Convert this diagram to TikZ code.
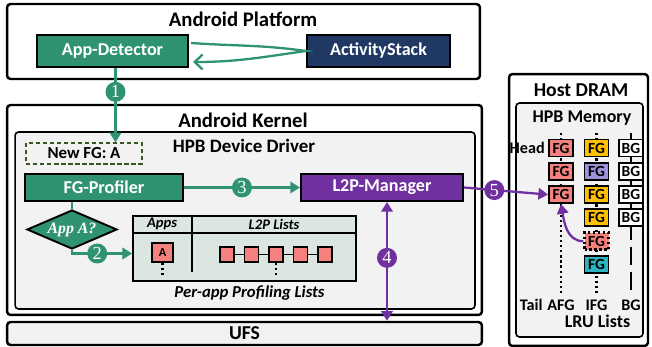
\documentclass[tikz,border=0pt]{standalone}
\usepackage{fontspec}
\setmainfont{Carlito}
\newfontfamily\numfont{Liberation Serif}
\usepackage{xcolor}
\usetikzlibrary{shapes.geometric,arrows.meta,positioning,calc}
\definecolor{DiagGreen}{HTML}{2F9270}
\definecolor{DiagDarkGreen}{HTML}{385723}
\definecolor{DiagNavy}{HTML}{203864}
\definecolor{DiagPurple}{HTML}{7030A0}
\definecolor{DiagGray}{HTML}{F2F2F2}
\definecolor{DiagTable}{HTML}{DCE6E1}
\definecolor{DiagRed}{HTML}{F4817E}
\definecolor{DiagYellow}{HTML}{FFC000}
\definecolor{DiagLavender}{HTML}{9E90DA}
\definecolor{DiagTeal}{HTML}{2DB4BF}
\tikzset{
    % Layer frames
    layer/.style={
        rectangle,
        rounded corners=2pt,
        draw=black,
        line width=1.4pt,
        fill=white,
        inner sep=0pt
    },
    layer inner/.style={
        layer,
        line width=0.9pt,
        fill=DiagGray
    },
    layer title/.style={
        inner sep=0pt,
        font=\fontsize{11.8}{13}\selectfont\bfseries
    },
    % Software modules
    module/.style={
        rectangle,
        draw=black,
        line width=1.2pt,
        text=white,
        inner sep=0pt,
        font=\fontsize{10.3}{12}\selectfont\bfseries
    },
    module green/.style={module, fill=DiagGreen},
    module navy/.style={module, fill=DiagNavy},
    module purple/.style={module, fill=DiagPurple},
    note box/.style={
        rectangle,
        draw=DiagDarkGreen,
        line width=0.8pt,
        dash pattern=on 2.5pt off 1.5pt,
        fill=DiagGray,
        inner sep=0pt,
        font=\fontsize{9.6}{10}\selectfont\bfseries
    },
    decision/.style={
        diamond,
        aspect=2.3,
        draw=black,
        line width=1.1pt,
        fill=DiagGreen,
        text=white,
        inner sep=0pt,
        minimum width=1.8cm,
        minimum height=0.78cm,
        font=\numfont\fontsize{9}{9}\selectfont\bfseries\itshape
    },
    numball/.style={
        circle,
        fill=#1,
        text=white,
        minimum size=0.4cm,
        inner sep=0pt,
        font=\numfont\fontsize{10.5}{10}\selectfont
    },
    % Lists
    prof table/.style={
        rectangle,
        draw=black,
        line width=1.1pt,
        fill=DiagTable,
        inner sep=0pt
    },
    col head/.style={
        inner sep=0pt,
        font=\fontsize{8.3}{9}\selectfont\bfseries\itshape
    },
    entry/.style={
        rectangle,
        draw=black,
        line width=1.1pt,
        fill=DiagRed,
        inner sep=0pt,
        font=\fontsize{7}{7}\selectfont\bfseries
    },
    page/.style={
        rectangle,
        draw=black,
        line width=1.1pt,
        minimum width=0.48cm,
        minimum height=0.34cm,
        inner sep=0pt,
        font=\fontsize{8.8}{9}\selectfont\bfseries
    },
    lru label/.style={
        inner sep=0pt,
        font=\fontsize{9.2}{10}\selectfont\bfseries
    },
    dotline/.style={
        line width=1.3pt,
        dash pattern=on 1.3pt off 1.6pt
    },
    % Connectors
    arrow green/.style={
        line width=1.3pt,
        color=DiagGreen,
        -{Triangle[length=5.5pt,width=6.5pt]}
    },
    arrow purple/.style={
        arrow green,
        color=DiagPurple
    },
    loop arrow/.style={
        line width=1.3pt,
        color=DiagGreen,
        -{Straight Barb[length=4.5pt,width=8.5pt]}
    }
}

\begin{document}
\begin{tikzpicture}[x=0.02cm, y=-0.02cm]
    \useasboundingbox (0,0) rectangle (652,347);

    % Android Platform
    \node[layer, minimum width=9.46cm, minimum height=1.5cm] (platform) at (243.5,41.5) {};
    \node[layer title] (platformtitle) at (243,19) {Android Platform};
    \node[module green, minimum width=3.02cm, minimum height=0.64cm] (appdet) at (112.5,51) {App-Detector};
    \node[module navy, minimum width=2.86cm, minimum height=0.64cm] (actstack) at (378.5,51) {ActivityStack};
    \draw[loop arrow] ($(appdet.east)+(2,-8)$) to[out=-4,in=172] (actstack.west)
        to[out=188,in=0] ($(appdet.east)+(4,11)$);

    % Android Kernel
    \node[layer, minimum width=9.5cm, minimum height=4.2cm] (kernel) at (244.5,210) {};
    \node[layer title] (kerneltitle) at (243,120) {Android Kernel};
    \node[layer inner, minimum width=9.2cm, minimum height=3.54cm] (driver) at (245,220.5) {};
    \node[layer title, font=\fontsize{10.8}{12}\selectfont\bfseries] (drivertitle) at (244,146) {HPB Device Driver};

    \node[note box, minimum width=2.32cm, minimum height=0.42cm] (newfg) at (84,153.5) {New FG: A};
    \node[module green, minimum width=3.16cm, minimum height=0.54cm] (fgprof) at (104,187.5) {FG-Profiler};
    \node[module purple, minimum width=3.24cm, minimum height=0.54cm] (l2p) at (382,187.5) {L2P-Manager};
    \node[decision] (appq) at (72,229.5) {App A?};

    % Per-app profiling lists
    \node[prof table, minimum width=4.46cm, minimum height=1.3cm] (tbl) at (244.5,248.5) {};
    \draw[line width=1.1pt] ($(tbl.north west)+(0,18)$) -- ($(tbl.north east)+(0,18)$);
    \draw[line width=1.1pt] ($(tbl.north west)+(60,0)$) -- ($(tbl.north west)+(60,57)$);
    \node[col head] (appshead) at ($(tbl.north west)+(30,9)$) {Apps};
    \node[col head] (l2phead) at ($(tbl.north west)+(142,9)$) {L2P Lists};
    \node[entry, minimum width=0.42cm, minimum height=0.38cm] (appa) at (162.5,252.5) {A};
    \draw[dotline] (appa.south) -- ++(0,14);
    \foreach \i in {1,...,5}
        \node[entry, minimum width=0.28cm, minimum height=0.29cm] (m\i) at ({227+24.5*(\i-1)},254.5) {};
    \foreach \i/\j in {1/2,2/3,3/4,4/5}
        \draw[line width=1.1pt] (m\i) -- (m\j);
    \draw[dotline] (m3.south) -- ++(0,14);
    \node[col head, font=\fontsize{9.5}{10}\selectfont\bfseries\itshape] (proflabel) at (249.5,293) {Per-app Profiling Lists};

    % UFS
    \node[layer, fill=DiagGray, minimum width=9.5cm, minimum height=0.46cm,
          font=\fontsize{11.2}{12}\selectfont\bfseries] (ufs) at (244.5,333.5) {UFS};

    % Host DRAM
    \node[layer, minimum width=2.78cm, minimum height=5.44cm] (dram) at (578.5,210) {};
    \node[layer title, font=\fontsize{11.2}{12}\selectfont\bfseries] (dramtitle) at (581,90) {Host DRAM};
    \node[layer inner, minimum width=2.54cm, minimum height=4.68cm] (hpbmem) at (579.5,220) {};
    \node[layer title, font=\fontsize{10.2}{11}\selectfont\bfseries] (memtitle) at (582,118) {HPB Memory};

    % LRU lists
    \foreach \x in {561,596.5}
        \draw[dotline] (\x,133) -- (\x,294);
    \draw[line width=1.2pt] (631,133) -- (631,222);
    \draw[line width=1.2pt, dash pattern=on 0.36cm off 0.14cm] (631,222) -- (631,292);
    \foreach \i in {1,2,3}
        \node[page, fill=DiagRed] (afg\i) at (561,{148+23.3*(\i-1)}) {FG};
    \foreach \i/\c in {1/DiagYellow,2/DiagLavender,3/DiagYellow,4/DiagYellow,6/DiagTeal}
        \node[page, fill=\c] (ifg\i) at (596.5,{148+23.3*(\i-1)}) {FG};
    \node[page, fill=DiagRed, line width=1.4pt, dash pattern=on 1.4pt off 1.4pt] (ifg5) at (596.5,241.2) {FG};
    \foreach \i in {1,...,4}
        \node[page, fill=white] (bg\i) at (631,{148+23.3*(\i-1)}) {BG};
    \node[lru label, left=0.06cm of afg1] (headlbl) {Head};
    \node[lru label, anchor=east] (taillbl) at (543,305) {Tail};
    \node[lru label] (afglbl) at (561,305) {AFG};
    \node[lru label] (ifglbl) at (596.5,305) {IFG};
    \node[lru label] (bglbl) at (631,305) {BG};
    \node[lru label, font=\fontsize{10.2}{11}\selectfont\bfseries] (lrulbl) at (597.5,321) {LRU Lists};

    % Steps
    \coordinate (c1) at ($(appdet.south)+(3,0)$);
    \draw[arrow green] (c1) -- node[numball=DiagGreen, pos=0.32] (n1) {1} (c1 |- newfg.north);
    \draw[line width=1.3pt, color=DiagGreen] (appq.north) -- (appq.north |- fgprof.south);
    \draw[arrow green] (appq.south) |- node[numball=DiagGreen, pos=0.71] (n2) {2} ($(tbl.west)+(0,5)$);
    \draw[arrow green] (fgprof) -- node[numball=DiagGreen] (n3) {3} (l2p);
    \coordinate (c4) at (387,0);
    \draw[arrow purple, {Triangle[length=5.5pt,width=6.5pt]}-{Triangle[length=5.5pt,width=6.5pt]}]
        (c4 |- l2p.south) -- node[numball=DiagPurple, pos=0.47] (n4) {4} (c4 |- ufs.north);
    \draw[arrow purple] (l2p.east) -- node[numball=DiagPurple, pos=0.36] (n5) {5} (afg3.west);
    \draw[arrow purple] (ifg5.west) to[out=180,in=-80] (afg3.south);
\end{tikzpicture}
\end{document}
